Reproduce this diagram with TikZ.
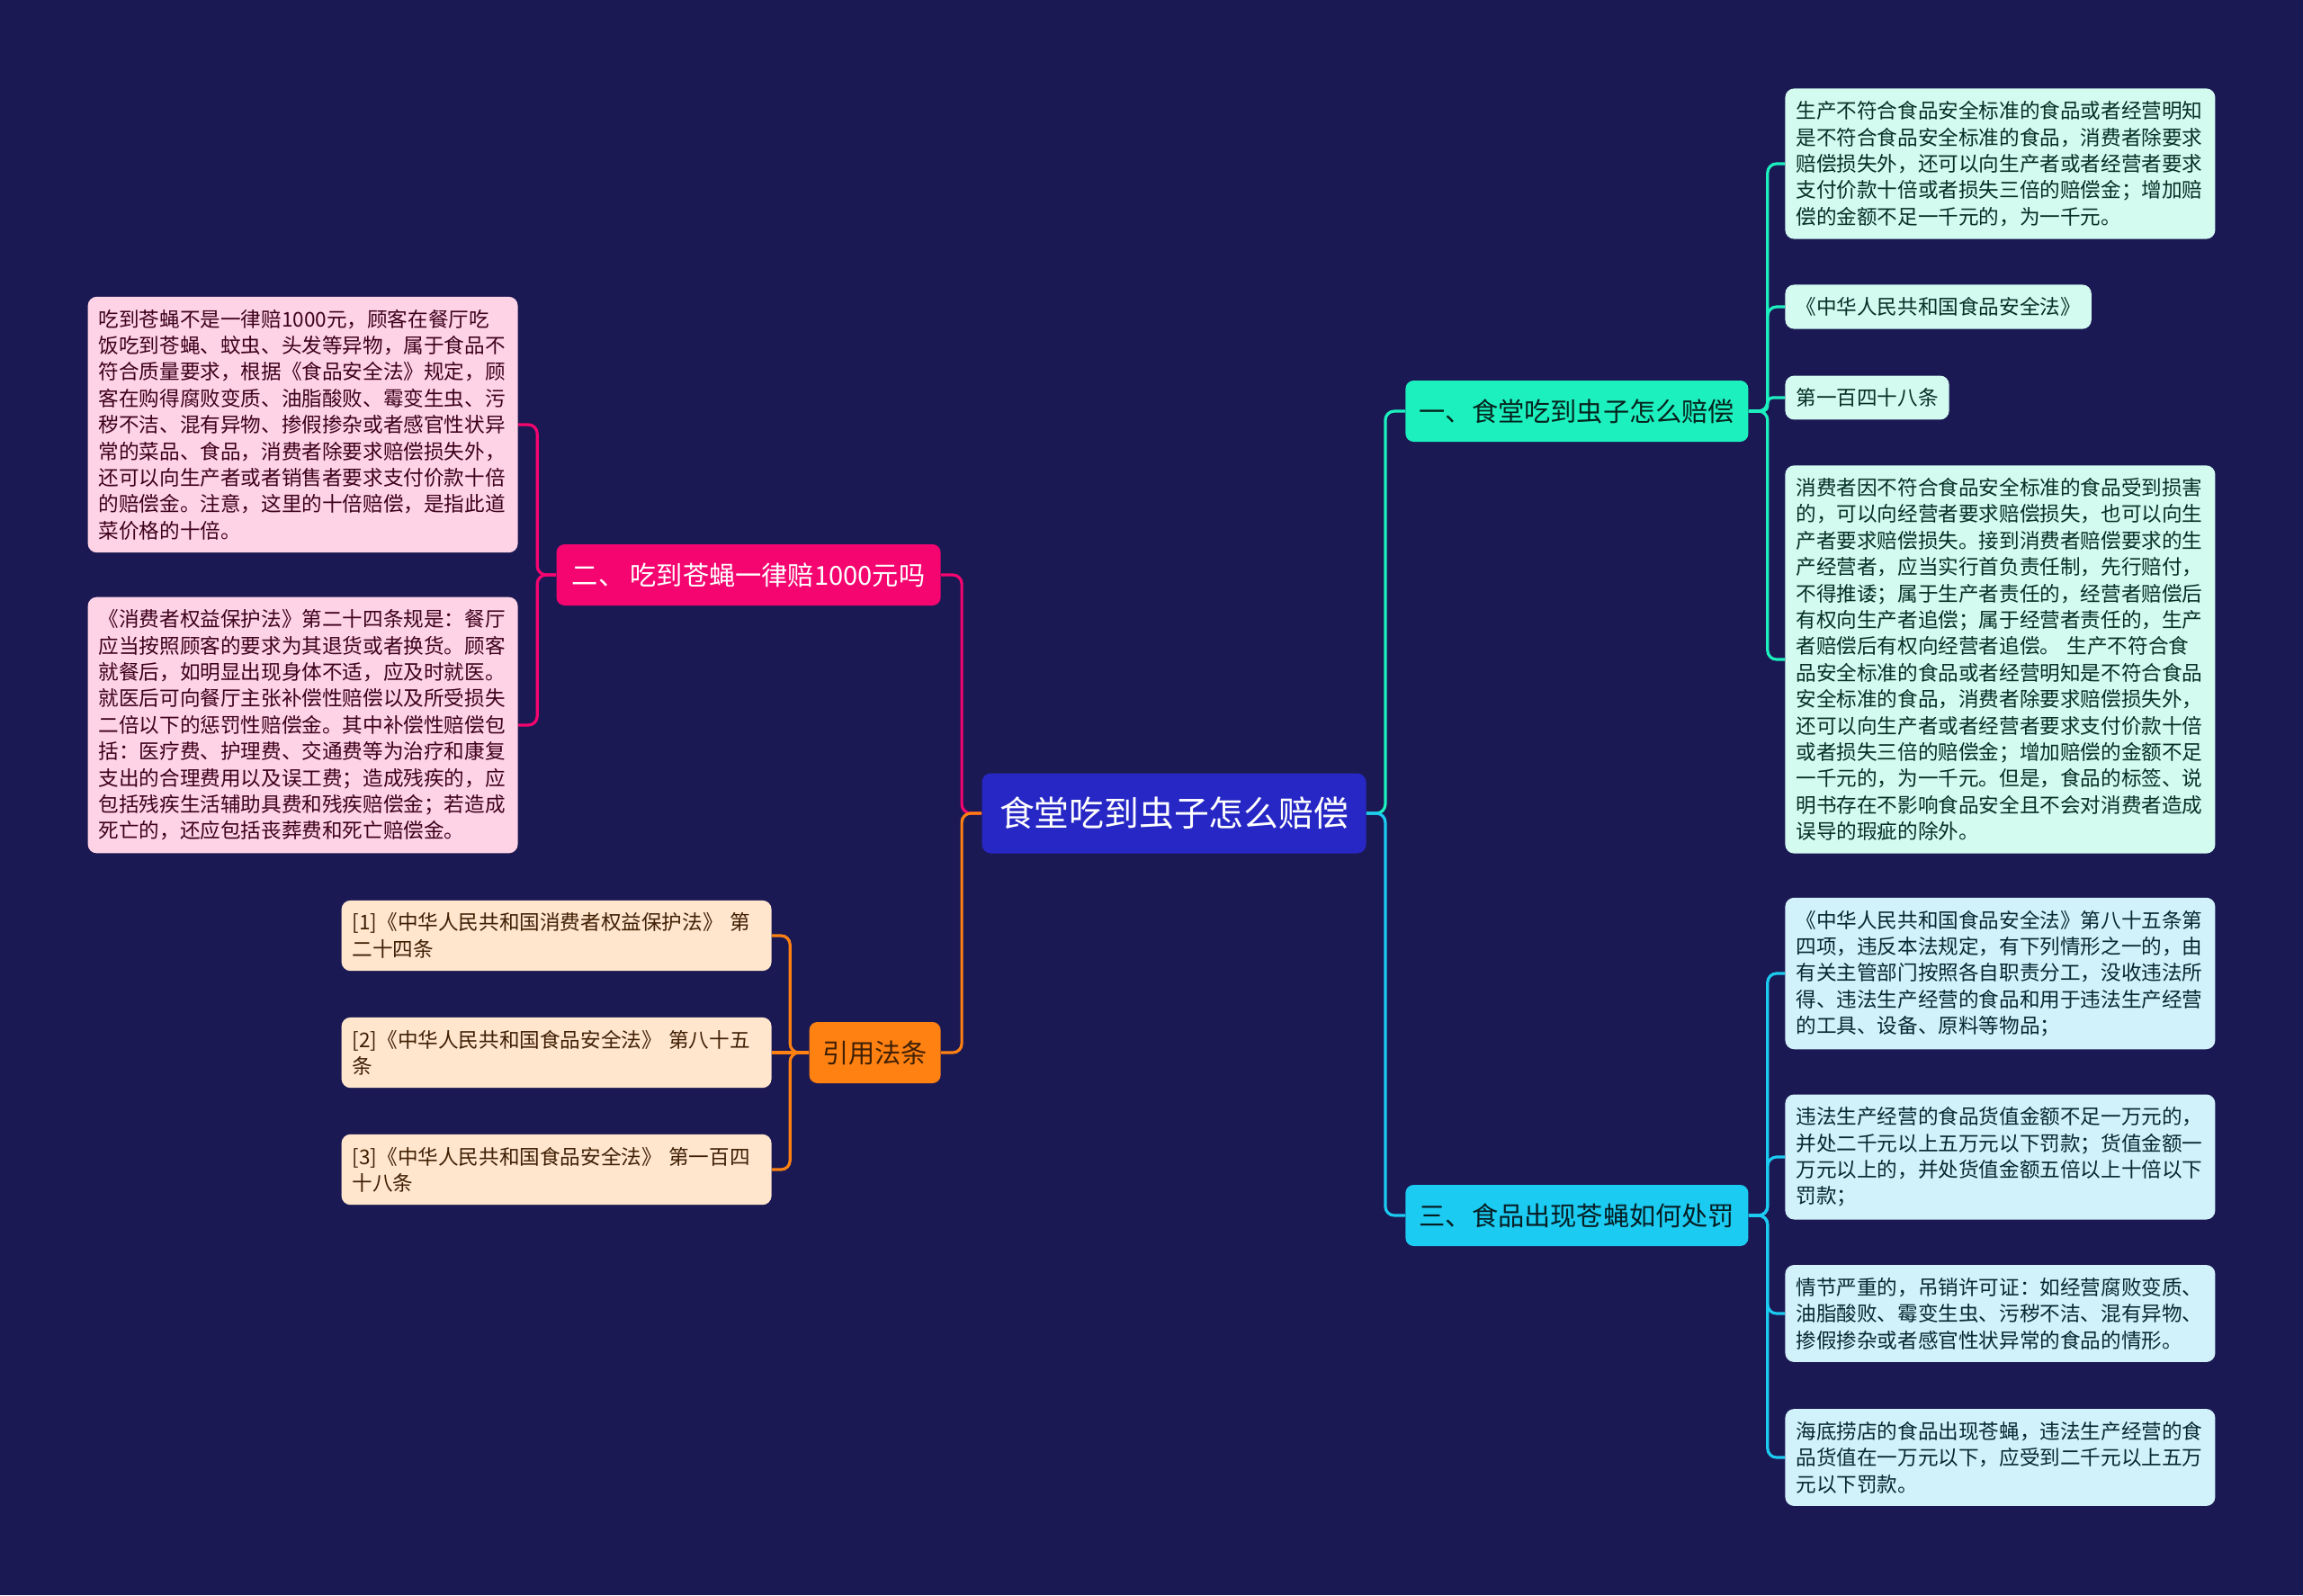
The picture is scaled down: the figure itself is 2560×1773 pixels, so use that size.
\documentclass[tikz,border=0pt]{standalone}
\usepackage{fontspec}
\setmainfont{Noto Sans CJK SC}
\definecolor{bgc}{HTML}{1B1953}
\definecolor{rootc}{HTML}{2727C6}
\definecolor{tealc}{HTML}{1DF0BF}
\definecolor{cyanc}{HTML}{1CCBF1}
\definecolor{pinkc}{HTML}{F50570}
\definecolor{orangec}{HTML}{FF8112}
\definecolor{tealleaf}{HTML}{D3FBF0}
\definecolor{cyanleaf}{HTML}{D2F2FB}
\definecolor{pinkleaf}{HTML}{FFD3E6}
\definecolor{peachleaf}{HTML}{FFE6CC}
\begin{document}
\begin{tikzpicture}[x=0.5pt, y=-0.5pt,
    rootbox/.style={fill=rootc, text=white, rounded corners=5pt, minimum width=213.5pt, minimum height=44.5pt, inner sep=0pt, font=\fontsize{19.4}{23}\selectfont},
    branchbox/.style={rounded corners=4.5pt, minimum height=34pt, inner sep=0pt, font=\fontsize{14.6}{17}\selectfont},
    leafbox/.style={rounded corners=5pt, text width=227pt, inner xsep=6pt, inner ysep=7pt, align=left, font=\fontsize{11.3}{14.7}\selectfont},
    link/.style={line width=1.6pt, rounded corners=5pt}]
    \fill[bgc] (0,0) rectangle (2560,1773);
    \useasboundingbox (0,0) rectangle (2560,1773);

    % Nodos
    \node[rootbox] (root) at (1305,904) {食堂吃到虫子怎么赔偿};
    \node[branchbox, fill=tealc, text=tealc!15!black, minimum width=190.5pt, anchor=west] (comp) at (1562,457) {一、食堂吃到虫子怎么赔偿};
    \node[branchbox, fill=cyanc, text=cyanc!15!black, minimum width=190.5pt, anchor=west] (fine) at (1562,1351) {三、食品出现苍蝇如何处罚};
    \node[branchbox, fill=pinkc, text=white, minimum width=213.5pt, anchor=east] (fly) at (1046,639) {二、 吃到苍蝇一律赔1000元吗};
    \node[branchbox, fill=orangec, text=orangec!25!black, minimum width=73pt, anchor=east] (refs) at (1046,1170) {引用法条};

    % Hojas derecha
    \node[leafbox, fill=tealleaf, text=tealc!20!black, anchor=west] (compA) at (1984,182) {生产不符合食品安全标准的食品或者经营明知\\是不符合食品安全标准的食品，消费者除要求\\赔偿损失外，还可以向生产者或者经营者要求\\支付价款十倍或者损失三倍的赔偿金；增加赔\\偿的金额不足一千元的，为一千元。};
    \node[leafbox, text width=, fill=tealleaf, text=tealc!20!black, anchor=west] (compB) at (1984,341) {《中华人民共和国食品安全法》};
    \node[leafbox, text width=, fill=tealleaf, text=tealc!20!black, anchor=west] (compC) at (1984,442) {第一百四十八条};
    \node[leafbox, fill=tealleaf, text=tealc!20!black, anchor=west] (compD) at (1984,733) {消费者因不符合食品安全标准的食品受到损害\\的，可以向经营者要求赔偿损失，也可以向生\\产者要求赔偿损失。接到消费者赔偿要求的生\\产经营者，应当实行首负责任制，先行赔付，\\不得推诿；属于生产者责任的，经营者赔偿后\\有权向生产者追偿；属于经营者责任的，生产\\者赔偿后有权向经营者追偿。 生产不符合食\\品安全标准的食品或者经营明知是不符合食品\\安全标准的食品，消费者除要求赔偿损失外，\\还可以向生产者或者经营者要求支付价款十倍\\或者损失三倍的赔偿金；增加赔偿的金额不足\\一千元的，为一千元。但是，食品的标签、说\\明书存在不影响食品安全且不会对消费者造成\\误导的瑕疵的除外。};
    \node[leafbox, fill=cyanleaf, text=cyanc!20!black, anchor=west] (fineA) at (1984,1082) {《中华人民共和国食品安全法》第八十五条第\\四项，违反本法规定，有下列情形之一的，由\\有关主管部门按照各自职责分工，没收违法所\\得、违法生产经营的食品和用于违法生产经营\\的工具、设备、原料等物品；};
    \node[leafbox, fill=cyanleaf, text=cyanc!20!black, anchor=west] (fineB) at (1984,1286) {违法生产经营的食品货值金额不足一万元的，\\并处二千元以上五万元以下罚款；货值金额一\\万元以上的，并处货值金额五倍以上十倍以下\\罚款；};
    \node[leafbox, fill=cyanleaf, text=cyanc!20!black, anchor=west] (fineC) at (1984,1460) {情节严重的，吊销许可证：如经营腐败变质、\\油脂酸败、霉变生虫、污秽不洁、混有异物、\\掺假掺杂或者感官性状异常的食品的情形。};
    \node[leafbox, fill=cyanleaf, text=cyanc!20!black, anchor=west] (fineD) at (1984,1620) {海底捞店的食品出现苍蝇，违法生产经营的食\\品货值在一万元以下，应受到二千元以上五万\\元以下罚款。};

    % Hojas izquierda
    \node[leafbox, fill=pinkleaf, text=pinkc!25!black, anchor=east] (flyA) at (576,472) {吃到苍蝇不是一律赔1000元，顾客在餐厅吃\\饭吃到苍蝇、蚊虫、头发等异物，属于食品不\\符合质量要求，根据《食品安全法》规定，顾\\客在购得腐败变质、油脂酸败、霉变生虫、污\\秽不洁、混有异物、掺假掺杂或者感官性状异\\常的菜品、食品，消费者除要求赔偿损失外，\\还可以向生产者或者销售者要求支付价款十倍\\的赔偿金。注意，这里的十倍赔偿，是指此道\\菜价格的十倍。};
    \node[leafbox, fill=pinkleaf, text=pinkc!25!black, anchor=east] (flyB) at (576,806) {《消费者权益保护法》第二十四条规是：餐厅\\应当按照顾客的要求为其退货或者换货。顾客\\就餐后，如明显出现身体不适，应及时就医。\\就医后可向餐厅主张补偿性赔偿以及所受损失\\二倍以下的惩罚性赔偿金。其中补偿性赔偿包\\括：医疗费、护理费、交通费等为治疗和康复\\支出的合理费用以及误工费；造成残疾的，应\\包括残疾生活辅助具费和残疾赔偿金；若造成\\死亡的，还应包括丧葬费和死亡赔偿金。};
    \node[leafbox, fill=peachleaf, text=orangec!25!black, anchor=east] (refA) at (858,1040) {[1]《中华人民共和国消费者权益保护法》 第\\二十四条};
    \node[leafbox, fill=peachleaf, text=orangec!25!black, anchor=east] (refB) at (858,1170) {[2]《中华人民共和国食品安全法》 第八十五\\条};
    \node[leafbox, fill=peachleaf, text=orangec!25!black, anchor=east] (refC) at (858,1300) {[3]《中华人民共和国食品安全法》 第一百四\\十八条};

    % Conexiones
    \draw[link, tealc] (root.east) -- ++(21,0) |- (comp.west);
    \draw[link, cyanc] (root.east) -- ++(21,0) |- (fine.west);
    \draw[link, pinkc] (root.west) -- ++(-22,0) |- (fly.east);
    \draw[link, orangec] (root.west) -- ++(-22,0) |- (refs.east);
    \foreach \leaf in {compA, compB, compD}
        \draw[link, tealc] (comp.east) -- ++(21,0) |- (\leaf.west);
    \draw[link, tealc, rounded corners=3pt] (comp.east) -- ++(21,0) |- (compC.west);
    \foreach \leaf in {fineA, fineB, fineC, fineD}
        \draw[link, cyanc] (fine.east) -- ++(21,0) |- (\leaf.west);
    \foreach \leaf in {flyA, flyB}
        \draw[link, pinkc] (fly.west) -- ++(-21,0) |- (\leaf.east);
    \foreach \leaf in {refA, refC}
        \draw[link, orangec] (refs.west) -- ++(-21,0) |- (\leaf.east);
    \draw[link, orangec] (refs.west) -- (refB.east);
\end{tikzpicture}
\end{document}
